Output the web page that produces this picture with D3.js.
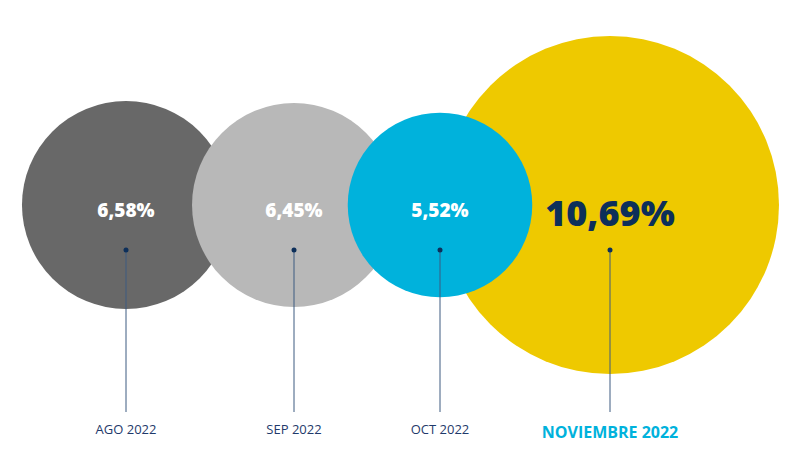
<!DOCTYPE html>
<html><head><meta charset="utf-8">
<script src="https://cdn.jsdelivr.net/npm/d3@7"></script>
<style>body{margin:0;background:#fff}text{font-family:"Open Sans",sans-serif}</style>
</head><body><svg id="c" width="800" height="473"></svg>
<script>
const months = ['AGO 2022', 'SEP 2022', 'OCT 2022', 'NOVIEMBRE 2022'];
const values = [6.58, 6.45, 5.52, 10.69];
const valueLabels = ['6,58%', '6,45%', '5,52%', '10,69%'];
const colors = ['#686868', '#b8b8b8', '#00b2dc', '#eec900'];
const drawOrder = [0, 1, 3, 2];

const svg = d3.select('#c');
const x = d3.scalePoint().domain(months).range([126, 610]);
const xPos = [126, 294, 440, 610];
const r = d3.scaleLinear().domain([0, 10.69]).range([0, 169]);
const cy = 205;

const data = months.map((m, i) => ({m, v: values[i], label: valueLabels[i], color: colors[i], x: xPos[i], last: i === 3}));

svg.selectAll('circle.bubble')
  .data(drawOrder.map(i => data[i]))
  .join('circle')
    .attr('class', 'bubble')
    .attr('cx', d => d.x)
    .attr('cy', cy)
    .attr('r', d => d.v === 5.52 ? r(d.v) + 5 : r(d.v))
    .attr('fill', d => d.color);

const g = svg.append('g');
g.selectAll('line').data(data).join('line')
  .attr('x1', d => d.x).attr('x2', d => d.x)
  .attr('y1', 250).attr('y2', 412)
  .attr('stroke', '#3d5a80').attr('stroke-width', 1);
g.selectAll('circle').data(data).join('circle')
  .attr('cx', d => d.x).attr('cy', 250).attr('r', 2.5).attr('fill', '#0d2f5a');

g.selectAll('text.val').data(data).join('text')
  .attr('class', 'val')
  .attr('x', d => d.x).attr('y', d => d.last ? 226 : 217)
  .attr('text-anchor', 'middle')
  .attr('font-weight', 800)
  .attr('font-size', d => d.last ? 36 : 19)
  .attr('fill', d => d.last ? '#0d2f5a' : '#fff')
  .text(d => d.label);

g.selectAll('text.mon').data(data).join('text')
  .attr('class', 'mon')
  .attr('x', d => d.x).attr('y', d => d.last ? 438 : 434)
  .attr('text-anchor', 'middle')
  .attr('font-weight', d => d.last ? 700 : 400)
  .attr('font-size', d => d.last ? 16 : 13)
  .attr('fill', d => d.last ? '#00b2dc' : '#1f3a6b')
  .text(d => d.m);
</script></body></html>
